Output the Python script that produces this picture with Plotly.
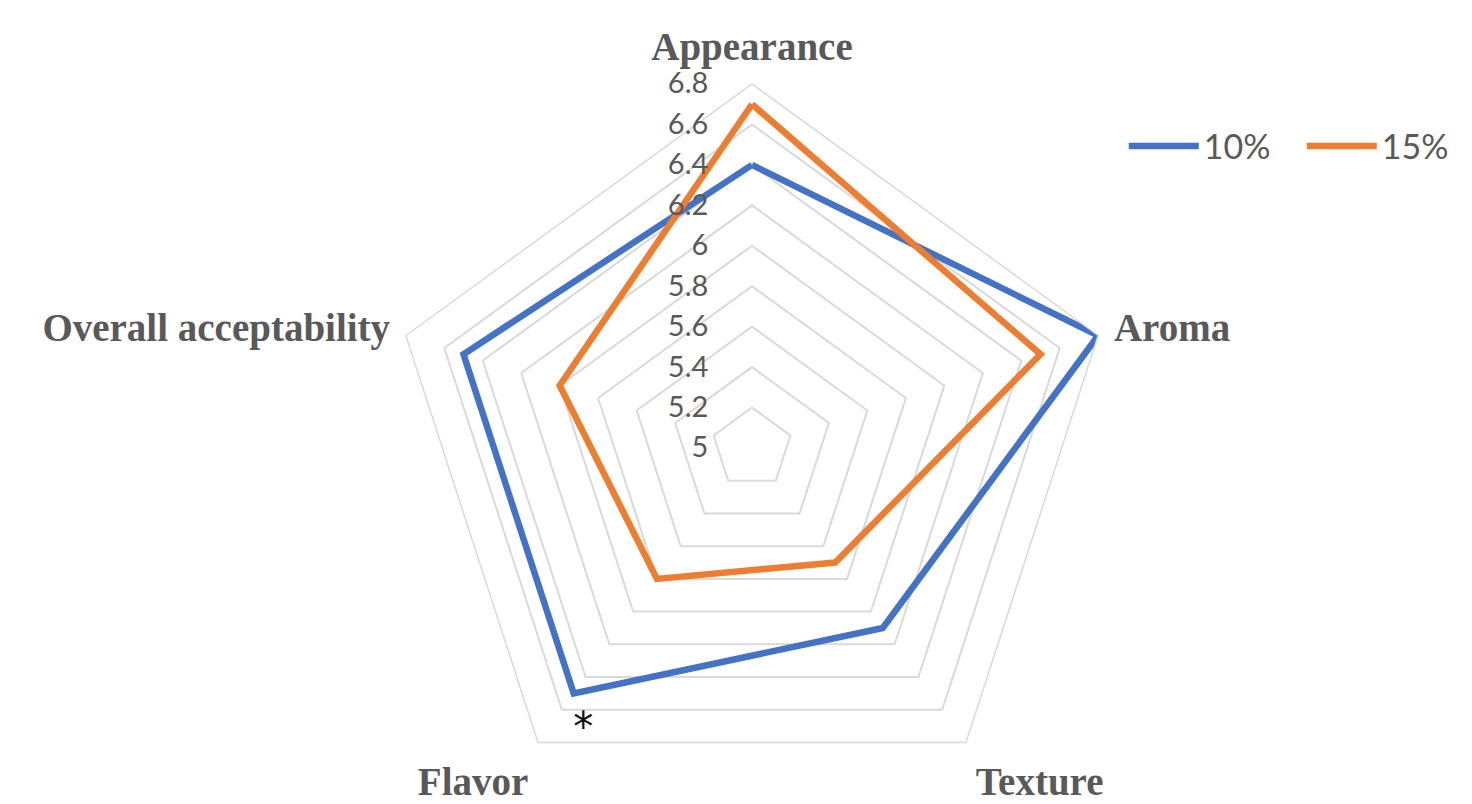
import plotly.graph_objects as go

categories = ["Appearance", "Aroma", "Texture", "Flavor", "Overall acceptability"]
series_names = ["10%", "15%"]
values_10 = [6.4, 6.8, 6.1, 6.5, 6.5]
values_15 = [6.7, 6.5, 5.7, 5.8, 6.0]
colors = ["#4472C4", "#ED7D31"]
radial_ticks = [5, 5.2, 5.4, 5.6, 5.8, 6, 6.2, 6.4, 6.6, 6.8]
radial_tick_text = ["5", "5.2", "5.4", "5.6", "5.8", "6", "6.2", "6.4", "6.6", "6.8"]
star_category = "Flavor"
star_r = 6.61

fig = go.Figure()
for name, vals, col in zip(series_names, [values_10, values_15], colors):
    fig.add_trace(go.Scatterpolar(
        r=vals + vals[:1],
        theta=categories + categories[:1],
        mode="lines",
        name=name,
        line=dict(color=col, width=6.5),
    ))

fig.add_trace(go.Scatterpolar(
    r=[star_r], theta=[star_category], mode="text", text=["\u00a0*"],
    textposition="bottom right",
    textfont=dict(size=40, color="#111111", family="DejaVu Sans"),
    showlegend=False, hoverinfo="skip",
))

W, H = 1472, 804
cx, cy, R = 744, 440, 364
fig.update_layout(
    width=W, height=H,
    margin=dict(l=0, r=0, t=0, b=0, autoexpand=False),
    paper_bgcolor="white",
    plot_bgcolor="white",
    polar=dict(
        bgcolor="white",
        gridshape="linear",
        domain=dict(x=[(cx - R) / W, (cx + R) / W], y=[0, 2 * R / H]),
        angularaxis=dict(
            rotation=90, direction="clockwise",
            categoryorder="array", categoryarray=categories,
            showgrid=False, showline=True, linecolor="#D9D9D9", linewidth=1.5,
            ticks="outside", ticklen=8, tickcolor="rgba(0,0,0,0)",
            tickfont=dict(family="Liberation Serif", size=39, color="#595959", weight="bold"),
        ),
        radialaxis=dict(
            range=[5, 6.8], tickvals=radial_ticks, ticktext=radial_tick_text,
            angle=90, tickangle=90, side="counterclockwise",
            showline=False, ticks="outside", ticklen=33, tickcolor="rgba(0,0,0,0)",
            showgrid=True, gridcolor="#D9D9D9", gridwidth=1.5,
            tickfont=dict(family="Lato", size=29, color="#595959"),
        ),
    ),
    showlegend=True,
    legend=dict(
        orientation="h", x=0.758, y=0.864, xanchor="left", yanchor="top",
        font=dict(family="Lato", size=34, color="#595959"),
        itemwidth=70, entrywidth=93, bgcolor="rgba(0,0,0,0)",
    ),
)

fig.write_html("out.html")
